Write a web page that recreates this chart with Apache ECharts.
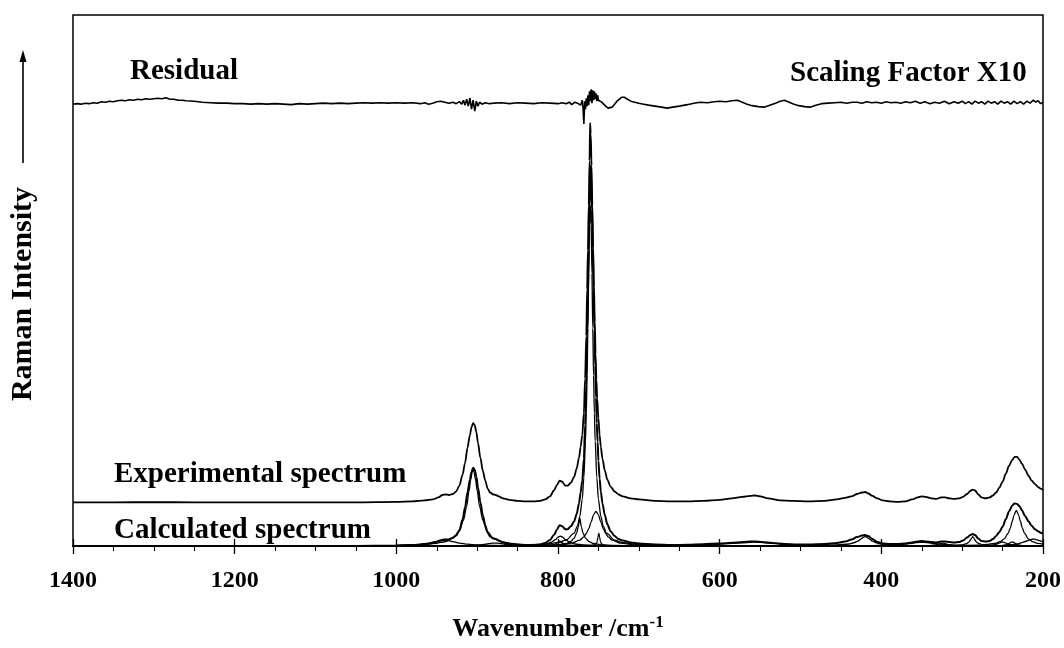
<!DOCTYPE html>
<html>
<head>
<meta charset="utf-8">
<script src="https://cdn.jsdelivr.net/npm/echarts@6/dist/echarts.min.js"></script>
<style>html,body{margin:0;padding:0;background:#fff}#c{width:1064px;height:648px}</style>
</head>
<body>
<div id="c"></div>
<script>
// ---- tick labels ----
const xTicks = [1400, 1200, 1000, 800, 600, 400, 200];

// ---- offsets of the stacked traces (display units) ----
const EXP_OFFSET = 44;
const RESID_OFFSET = 447;

// ---- residual (x10), deviation from its own baseline ----
const residual = [[1400,-1],[1395,-0.5],[1390,-1],[1385,0],[1380,-0.5],[1375,0.5],[1370,0],[1365,1.5],[1360,1],[1355,2],[1350,1.5],[1345,2.5],[1340,3],[1335,2.5],[1330,3.5],[1325,3],[1320,4],[1315,3.5],[1310,4.5],[1305,4],[1300,4.5],[1295,5],[1290,4.5],[1285,5.5],[1280,4],[1275,4],[1270,3],[1265,3],[1260,2.5],[1250,2],[1245,1.5],[1240,1],[1230,0.5],[1220,0],[1210,0],[1200,-0.5],[1190,-0.5],[1180,-1],[1170,-0.5],[1160,-1],[1150,-0.5],[1140,-1],[1130,-1.5],[1120,-0.5],[1110,-1],[1100,-0.5],[1090,0],[1080,-0.5],[1070,0],[1060,-0.5],[1050,0],[1040,0.5],[1030,0],[1020,0.5],[1010,0],[1000,0.5],[990,0],[980,0.5],[970,-0.5],[965,0.5],[960,-1],[955,0],[950,1.5],[945,2],[940,1],[935,0],[930,1],[926,-0.5],[922,1.5],[919,-1],[917,3],[915,-2],[913,4],[911,-3],[909,5],[907,-6],[905,3],[903,-8],[901,2],[899,-3],[897,1],[894,-1],[890,0.5],[885,-0.5],[880,0],[870,0.5],[860,-0.5],[850,0.5],[840,0],[830,-0.5],[820,0.5],[810,0],[800,-0.5],[795,0.5],[790,-0.5],[786,1],[783,-1.5],[779,1],[776,0],[774,2],[772,-2],[770,3],[769,-5],[768,-21],[767,2],[766,-6],[765,5],[764,-3],[763,8],[762,-2],[761,12],[760,2],[759,14],[758,0],[757,13],[756,3],[755,12],[754,4],[753,10],[752,2],[751,8],[750,3],[748,5],[746,1],[744,-1],[741,-3],[738,-5],[736,-6],[733,-4],[730,-1],[727,2],[724,4],[721,6],[718,6],[714,4],[710,2],[705,1],[700,0],[694,-1],[688,-2],[680,-3],[672,-4],[665,-5],[658,-4],[650,-3],[640,-1.5],[632,0],[624,1],[615,0.5],[607,1.5],[600,2],[592,1.5],[585,2.5],[578,3],[572,1],[566,-1],[560,-2.5],[552,-3.5],[545,-4],[538,-2],[531,0],[525,2],[520,3],[514,1],[508,-1],[502,-2.5],[495,-3.5],[488,-4],[481,-2],[474,-0.5],[466,0],[458,0.5],[450,1],[443,0],[436,1],[430,1],[424,0],[418,1.5],[412,0.5],[406,1],[400,0],[394,1.5],[388,0.5],[382,1],[376,0],[370,1.5],[364,0.5],[358,2],[352,0],[346,1.5],[340,-0.5],[334,1],[328,0],[322,2],[316,-0.5],[310,1.5],[305,0],[300,2],[296,-0.5],[292,1.5],[288,-1],[284,2],[280,0],[276,1.5],[272,-1],[268,2],[264,0],[260,1.5],[256,-1],[252,2],[248,0],[244,1.5],[240,-1],[236,2],[232,-0.5],[228,1.5],[224,-1],[220,2],[216,0],[212,3],[209,1],[206,2.5],[203,-0.5],[200,1]];

// ---- experimental spectrum ----
const experimental = [[1400,0],[1350,0],[1300,0.3],[1250,0],[1200,0],[1150,0],[1100,0],[1050,0],[1000,0.5],[980,1],[965,2],[955,3],[948,5],[943,7.5],[939,8],[935,7.5],[930,8.5],[926,11],[922,17],[918,28],[915,40],[912,55],[909,68],[907,76],[905,80],[903,78],[901,71],[899,60],[896,45],[893,32],[890,22],[887,14],[884,10],[880,8],[877,7.5],[873,6],[868,4],[860,2.5],[850,1.5],[840,1],[830,1],[822,1.5],[816,3],[810,6],[805,12],[801,18],[798,22],[795,21],[791,17],[788,17],[784,20],[780,26],[777,34],[774,45],[772,56],[770,68],[768,90],[766.5,125],[765,168],[764,215],[763,255],[762,300],[761,345],[760.3,383],[759.5,372],[758.5,340],[757.5,300],[756.5,258],[755.5,218],[754.5,182],[753.5,150],[752.5,124],[751.5,105],[750,85],[748.5,68],[747,56],[745,44],[742,32],[739,23],[735,16],[730,11],[725,8],[720,6],[710,4],[700,3],[680,1.5],[660,1],[640,1],[620,1.5],[600,2.5],[585,4],[572,5.5],[562,6.5],[556,7],[550,6],[540,4],[525,2],[510,1.5],[490,1],[470,1.5],[455,3],[445,4.5],[437,6],[430,8.5],[424,10],[420,10.5],[416,9],[411,6.5],[405,4],[398,2],[390,1],[380,0.5],[370,1],[362,3],[355,5],[350,6],[345,5.5],[338,4],[332,3.5],[326,5],[321,5],[316,4],[310,3.5],[304,4],[299,5.5],[294,8.5],[290,11.5],[287,13],[284,12],[280,8],[276,5],[271,4],[266,5],[262,7],[258,10],[254,15],[250,21],[246,29],[242,37],[238,43],[235,46],[232,46],[229,43],[226,39],[222,33],[218,27],[214,22],[210,18.5],[206,15.5],[203,14],[200,12.5]];

// ---- calculated (fitted) spectrum ----
const calculated = [[1400,0],[1200,0],[1050,0],[1000,0.3],[985,0.7],[970,1.5],[960,2.5],[952,4],[946,5.5],[941,6.5],[936,6.5],[931,8],[926,10.5],[922,16],[918,27],[915,39],[912,54],[909,67],[907,75],[905,79],[903,77],[901,70],[899,59],[896,44],[893,31],[890,21],[887,13.5],[884,9.5],[880,7.5],[877,7],[873,5.5],[868,3.5],[860,2],[850,1.2],[840,1],[830,1],[822,1.5],[816,3],[810,6],[805,11],[801,17],[798,21],[795,20],[791,17],[788,17],[784,20],[780,25],[777,32],[774,43],[772,54],[770,66],[768,88],[766.5,122],[765,162],[764,212],[763,252],[762,298],[761,342],[759.8,384],[759,372],[758,340],[757,300],[756,258],[755,218],[754,182],[753,150],[752,124],[751,105],[750,86],[748.5,68],[747,55],[745,43],[742,31],[739,22],[735,15],[730,10],[725,7],[720,5.5],[710,3.5],[700,2.5],[680,1.5],[660,1],[640,1.2],[620,1.8],[600,2.5],[585,3.3],[572,4],[562,4.5],[556,4.5],[548,4],[535,3],[520,2],[505,1.5],[490,1.5],[470,2],[455,3],[445,4.5],[437,6.5],[430,9],[424,10.5],[420,11],[416,10],[411,7],[405,4],[398,2.5],[390,2],[380,2],[370,2.5],[362,3.5],[355,4.5],[350,5],[345,4.5],[338,4],[332,3.5],[326,4.5],[321,4.5],[316,4],[310,3.5],[304,4],[299,5.5],[294,8.5],[290,11],[287,12],[284,11],[280,7.5],[276,5],[271,4.5],[266,5],[262,7],[258,10],[254,14],[250,19.5],[246,27],[242,35],[238,41],[235,43],[232,42.5],[229,40],[226,36],[222,30],[218,25],[214,20.5],[210,17],[206,15],[203,13.5],[200,12.5]];

// ---- fitted band components ----
const c940 = [[1000,0.5],[980,1],[968,1.8],[958,3],[950,4.5],[944,5.5],[940,6],[936,5.5],[930,4.5],[922,3],[912,1.8],[900,1],[880,0.5],[860,0.2]];
const c905 = [[1000,0.6],[980,1],[960,1.8],[950,2.8],[940,4.3],[930,8],[922,15],[917,26],[913,40],[910,56],[908,67],[906,75],[905,77],[904,75],[902,67],[900,56],[897,40],[893,26],[888,15],[880,8],[870,4.3],[860,2.8],[850,1.8],[830,1],[800,0.6],[760,0.3]];
const c878 = [[910,0.4],[900,0.8],[892,1.5],[886,2.3],[881,2.9],[878,3],[875,2.9],[870,2.3],[864,1.5],[856,0.8],[846,0.4],[830,0.2]];
const c797 = [[840,0.5],[825,1],[815,2],[808,4],[803,6.5],[800,9],[797,10],[794,9],[791,6.5],[786,4],[779,2],[769,1],[754,0.5],[730,0.2]];
const c798 = [[815,0.3],[808,0.8],[804,1.7],[801,3.3],[799,4.6],[798,5],[797,4.6],[795,3.3],[792,1.7],[788,0.8],[781,0.3]];
const c773 = [[810,0.7],[800,1.2],[790,2.5],[784,4.7],[780,8],[777,13],[775,19],[773,28],[771,19],[769,13],[766,8],[762,4.7],[756,2.5],[746,1.2],[730,0.5],[710,0.2]];
const c760 = [[860,0.55],[820,1.5],[800,3.4],[790,6],[780,13],[776,20],[773,30],[770,47],[768,69],[766,106],[765,134],[764,172],[763,220],[762,275],[761,324],[760,344],[759,324],[758,275],[757,220],[756,172],[755,134],[754,106],[752,69],[750,47],[747,30],[744,20],[740,13],[730,6],[720,3.4],[700,1.5],[660,0.55]];
const c753 = [[840,0.4],[803,1.1],[783,2.9],[773,5.9],[768,9.3],[765,12.6],[762,17.5],[759,24.2],[756,31.5],[753,35],[750,31.5],[747,24.2],[744,17.5],[741,12.6],[738,9.3],[733,5.9],[723,2.9],[703,1.1],[670,0.4]];
const c750 = [[760,0.3],[755,1.1],[752.5,2.6],[751.5,4.7],[750.5,9],[749.5,13],[748.5,9],[747.5,4.7],[746.5,2.6],[744.5,1.1],[739.5,0.3]];
const c556 = [[680,0.3],[650,0.6],[620,1.1],[600,1.8],[585,2.6],[572,3.3],[562,3.8],[556,4],[550,3.8],[540,3.2],[528,2.4],[515,1.6],[500,1],[480,0.6],[450,0.3]];
const c420 = [[480,0.3],[455,1],[440,2],[434,3.3],[429,5],[425,7.2],[422,9],[420,9.5],[418,9],[415,7.2],[411,5],[406,3.3],[400,2],[385,1],[360,0.3]];
const c350 = [[410,0.4],[390,0.9],[375,1.7],[365,2.6],[357,3.4],[350,3.8],[343,3.4],[335,2.6],[325,1.7],[310,0.9],[290,0.4]];
const c323 = [[340,0.4],[333,1],[329,1.8],[326,2.6],[324,3],[322,2.6],[319,1.8],[315,1],[308,0.4]];
const c287 = [[310,0.4],[300,1.2],[295,2.3],[292,3.7],[290,5.8],[288,8.5],[287,9.5],[286,8.5],[284,5.8],[282,3.7],[279,2.3],[274,1.2],[264,0.4]];
const c233 = [[300,0.5],[280,0.9],[270,1.5],[260,2.6],[253,4.4],[248,7.2],[243,13],[240.5,18],[238,25],[236,31],[233,36],[230,31],[228,25],[225.5,18],[223,13],[218,7.2],[213,4.4],[206,2.6],[200,1.8]];
const c250 = [[270,0.4],[262,1],[257,2],[254,3],[252,3.7],[250,4],[248,3.7],[246,3],[243,2],[238,1],[230,0.4]];
const c238 = [[250,0.4],[245,1.2],[242,2.4],[240,3.6],[238,4],[236,3.6],[234,2.4],[231,1.2],[226,0.4]];
const c212 = [[250,0.6],[240,1.2],[232,2.1],[226,3.4],[221,4.8],[217,6],[213,6.8],[212,7],[210,6.8],[206,5.8],[202,4.8],[200,4.3]];

const components = [c940, c905, c878, c797, c798, c773, c760, c753, c750, c556, c420, c350, c323, c287, c233, c250, c238, c212];

const FONT = '"Liberation Serif", "Times New Roman", serif';

function trace(name, data, offset, width, smooth, z) {
  return {
    name: name, type: 'line', xAxisIndex: 0, yAxisIndex: 0,
    data: data.map(p => [p[0], p[1] + offset]),
    showSymbol: false, symbol: 'none', smooth: smooth, smoothMonotone: 'x',
    lineStyle: { color: '#000', width: width }, silent: true, z: z
  };
}

const series = [];
components.forEach((c, i) => series.push(trace('comp' + i, c, 0, 1.3, 0.3, 2)));
series.push(trace('Calculated', calculated, 0, 2, 0.3, 3));
series.push(trace('Experimental', experimental, EXP_OFFSET, 1.8, 0.3, 3));
series.push(trace('Residual', residual, RESID_OFFSET, 1.6, false, 3));

const chart = echarts.init(document.getElementById('c'), null, { renderer: 'canvas' });
const baseX = {
  type: 'value', min: 200, max: 1400, interval: 200, inverse: true,
  splitLine: { show: false }, minorSplitLine: { show: false }
};
chart.setOption({
  animation: false,
  backgroundColor: '#fff',
  grid: { left: 73, right: 21, top: 15, bottom: 97, show: true, borderColor: '#000', borderWidth: 1.5, backgroundColor: 'transparent' },
  xAxis: [
    Object.assign({}, baseX, {
      position: 'bottom',
      axisLine: { show: true, lineStyle: { color: '#000', width: 2 } },
      axisTick: { show: true, inside: false, length: 8, lineStyle: { color: '#000', width: 1.3 } },
      minorTick: { show: true, splitNumber: 4, length: 5, lineStyle: { color: '#000', width: 1.1 } },
      axisLabel: {
        show: true, margin: 23, color: '#000', fontFamily: FONT, fontWeight: 'bold', fontSize: 24,
        formatter: v => (xTicks.indexOf(v) >= 0 ? String(v) : '')
      },
      name: '{a|Wavenumber /cm}{s|-1}',
      nameLocation: 'middle', nameGap: 68,
      nameTextStyle: {
        rich: {
          a: { fontFamily: FONT, fontWeight: 'bold', fontSize: 26, color: '#000', lineHeight: 30 },
          s: { fontFamily: FONT, fontWeight: 'bold', fontSize: 17, color: '#000', verticalAlign: 'top', lineHeight: 30, padding: [0, 0, 12, 0] }
        }
      }
    }),
    Object.assign({}, baseX, {
      position: 'bottom',
      axisLine: { show: false },
      axisTick: { show: true, inside: true, length: 7, lineStyle: { color: '#000', width: 1.3 } },
      minorTick: { show: false },
      axisLabel: { show: false }
    })
  ],
  yAxis: { type: 'value', min: 0, max: 536, show: false },
  graphic: [
    { type: 'text', left: 130, top: 57, style: { text: 'Residual', fill: '#000', font: 'bold 29px ' + FONT } },
    { type: 'text', left: 790, top: 59, style: { text: 'Scaling Factor X10', fill: '#000', font: 'bold 29px ' + FONT } },
    { type: 'text', left: 114, top: 460, style: { text: 'Experimental spectrum', fill: '#000', font: 'bold 29px ' + FONT } },
    { type: 'text', left: 114, top: 516, style: { text: 'Calculated spectrum', fill: '#000', font: 'bold 29px ' + FONT } },
    { type: 'text', x: 23, y: 294, rotation: Math.PI / 2,
      style: { text: 'Raman Intensity', fill: '#000', font: 'bold 30px ' + FONT, textAlign: 'center', textVerticalAlign: 'middle' } },
    { type: 'line', shape: { x1: 23, y1: 163, x2: 23, y2: 60 }, style: { stroke: '#000', lineWidth: 1.6 } },
    { type: 'polygon', shape: { points: [[23, 50], [19.5, 62], [26.5, 62]] }, style: { fill: '#000' } }
  ],
  series: series
});
</script>
</body>
</html>
